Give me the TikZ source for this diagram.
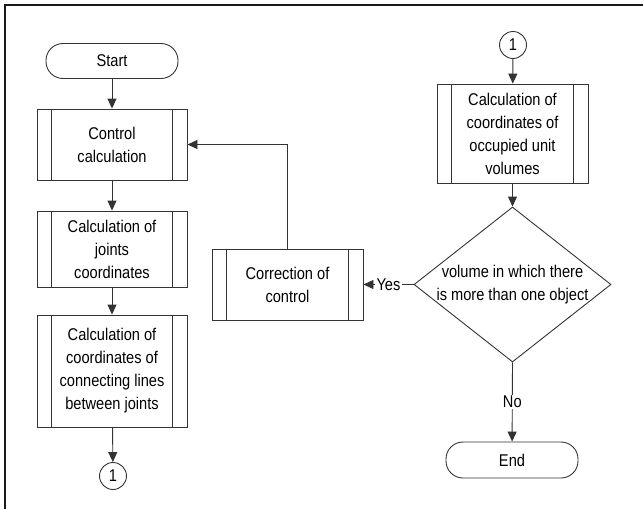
\documentclass[tikz,border=0pt]{standalone}
\usepackage{fontspec}
\setmainfont{Liberation Sans}[FakeStretch=0.86]
\usetikzlibrary{arrows.meta,shapes.geometric}
\begin{document}
\begin{tikzpicture}[x=1pt,y=-1pt,
  font=\fontsize{17}{23}\selectfont,
  every node/.style={align=center, inner sep=0pt},
  ln/.style={draw=black!80, line width=0.9pt},
  flow/.style={ln, -{Triangle[length=10pt,width=9pt]}},
  term/.style={ln, rectangle, rounded corners=17pt, minimum width=132pt, minimum height=35pt},
  proc/.style={ln, rectangle, minimum width=150pt},
  conn/.style={ln, circle, minimum size=27pt},
  lbl/.style={fill=white, inner sep=1.5pt}]
  \useasboundingbox (0,0) rectangle (643,509);

  % page frame (top and left edges)
  \draw[line width=2.6pt, black!90] (5,509) -- (5,5) -- (643,5);

  % left column
  \node[term] (start) at (112,61) {Start};
  \node[proc, minimum height=71pt] (cc) at (112,144.5) {Control\\calculation};
  \node[proc, minimum height=76pt] (jc) at (112,249) {Calculation of\\joints\\coordinates};
  \node[proc, minimum height=112pt] (cl) at (112,371) {Calculation of\\coordinates of\\connecting lines\\between joints};
  \node[conn] (c1a) at (113,476) {1};

  % right column
  \node[conn] (c1b) at (513,45) {1};
  \node[proc, minimum width=151pt, minimum height=99pt] (oc) at (512.5,133.5) {Calculation of\\coordinates of\\occupied unit\\volumes};
  \node[ln, diamond, minimum width=197pt, minimum height=155pt] (dm) at (512.5,284.5) {};
  \node (dmtext) at (512.5,285) {volume in which there\\is more than one object};
  \node[proc, minimum width=151pt, minimum height=71pt] (corr) at (287.5,284.5) {Correction of\\control};
  \node[term, minimum height=36pt] (end) at (512,460) {End};

  % side bars of the predefined-process boxes
  \foreach \b in {cc,jc,cl,oc,corr}{
    \draw[ln] ([xshift=15pt]\b.north west) -- ([xshift=15pt]\b.south west);
    \draw[ln] ([xshift=-15pt]\b.north east) -- ([xshift=-15pt]\b.south east);
  }

  % connectors
  \draw[flow] (start) -- (cc);
  \draw[flow] (cc) -- (jc);
  \draw[flow] (jc) -- (cl);
  \draw[flow] (cl) -- (c1a);
  \draw[flow] (c1b) -- (oc);
  \draw[flow] (oc) -- (dm.north);
  \draw[flow] (dm.west) -- node[lbl] {Yes} (corr.east);
  \draw[flow] (dm.south) -- node[lbl] {No} (end);
  \draw[flow] (corr.north) |- (cc.east);
\end{tikzpicture}
\end{document}
